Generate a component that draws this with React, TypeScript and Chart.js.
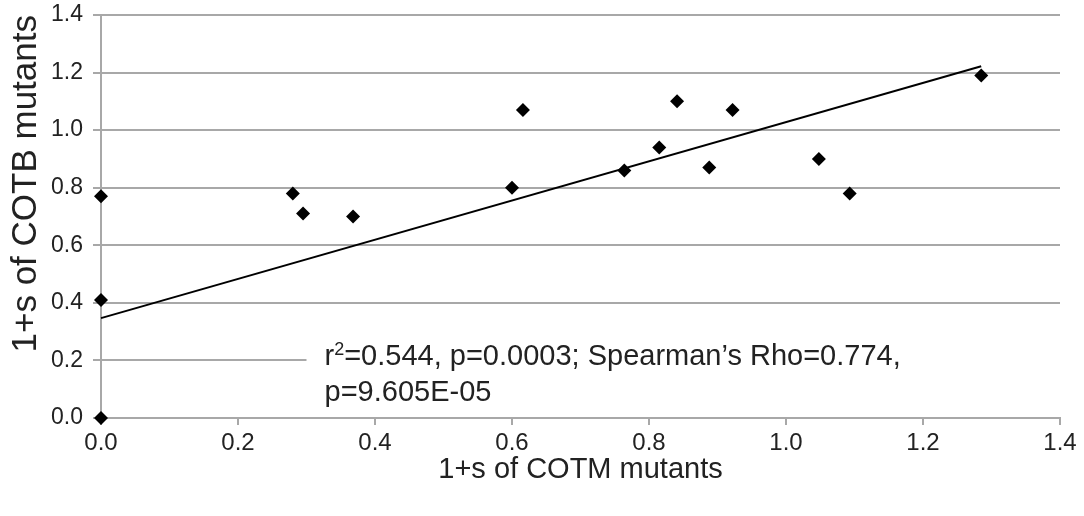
import React, { useEffect, useRef } from "react";
import { Chart, registerables } from "chart.js";

Chart.register(...registerables);

// COTM (x) vs COTB (y) fitness values
const cotmValues = [0, 0, 0, 0.28, 0.295, 0.368, 0.6, 0.616, 0.764, 0.815, 0.841, 0.888, 0.922, 1.048, 1.093, 1.285];
const cotbValues = [0.77, 0.41, 0.0, 0.78, 0.71, 0.7, 0.8, 1.07, 0.86, 0.94, 1.1, 0.87, 1.07, 0.9, 0.78, 1.19];

// linear trend line end points
const trendX = [0, 1.285];
const trendY = [0.347, 1.222];

const xTitle = "1+s of COTM mutants";
const yTitle = "1+s of COTB mutants";
const statsLine1Pre = "r";
const statsLine1Sup = "2";
const statsLine1Post = "=0.544, p=0.0003; Spearman\u2019s Rho=0.774,";
const statsLine2 = "p=9.605E-05";

const FONT = "'Liberation Sans', Arial, Helvetica, sans-serif";
const GRID = "#a8a8a8";
const TEXT = "#222222";

const statsBox = {
  id: "statsBox",
  beforeDatasetsDraw(chart: any) {
    const { ctx, chartArea, scales } = chart;
    const x = scales.x;
    const y = scales.y;
    const left = x.getPixelForValue(0.3);
    const top = y.getPixelForValue(0.34);
    const bottom = y.getPixelForValue(0.02);
    ctx.save();
    ctx.fillStyle = "#ffffff";
    ctx.fillRect(left, top, chartArea.right - left, bottom - top);
    ctx.fillStyle = TEXT;
    ctx.textBaseline = "alphabetic";
    ctx.textAlign = "left";
    const tx = left + 18;
    const b1 = top + 45;
    const b2 = top + 81;
    ctx.font = `29px ${FONT}`;
    ctx.fillText(statsLine1Pre, tx, b1);
    let cx = tx + ctx.measureText(statsLine1Pre).width;
    ctx.font = `18px ${FONT}`;
    ctx.fillText(statsLine1Sup, cx, b1 - 10);
    cx += ctx.measureText(statsLine1Sup).width;
    ctx.font = `29px ${FONT}`;
    ctx.fillText(statsLine1Post, cx, b1);
    ctx.fillText(statsLine2, tx, b2);
    ctx.restore();
  },
};

export default function App() {
  const ref = useRef<HTMLCanvasElement | null>(null);
  useEffect(() => {
    document.body.style.margin = "0";
    const canvas = ref.current;
    if (!canvas) return;
    const points = cotmValues.map((v, i) => ({ x: v, y: cotbValues[i] }));
    const trend = trendX.map((v, i) => ({ x: v, y: trendY[i] }));
    const chart = new Chart(canvas, {
      type: "scatter",
      data: {
        datasets: [
          {
            label: "trend",
            type: "line",
            data: trend,
            borderColor: "#000000",
            borderWidth: 2,
            pointRadius: 0,
            fill: false,
            clip: false,
          } as any,
          {
            label: "mutants",
            data: points,
            pointStyle: "rectRot",
            pointRadius: 7,
            backgroundColor: "#000000",
            borderColor: "#000000",
            borderWidth: 0,
            clip: false,
          } as any,
        ],
      },
      options: {
        animation: false,
        responsive: false,
        devicePixelRatio: 1,
        layout: { padding: { left: 0, right: 24, top: 15, bottom: 0 } },
        plugins: {
          legend: { display: false },
          tooltip: { enabled: false },
          title: { display: false },
        },
        scales: {
          x: {
            type: "linear",
            min: 0,
            max: 1.4,
            ticks: {
              stepSize: 0.2,
              color: TEXT,
              font: { family: FONT, size: 24 },
              padding: 4,
              maxRotation: 0,
              callback: (v: any) => Number(v).toFixed(1),
            },
            grid: {
              drawOnChartArea: false,
              drawTicks: true,
              tickLength: 7,
              color: GRID,
              lineWidth: 2,
            },
            border: { display: true, color: GRID, width: 2 },
            title: {
              display: true,
              text: xTitle,
              color: TEXT,
              font: { family: FONT, size: 29 },
              padding: { top: 0, bottom: 29 },
            },
            afterFit: (s: any) => {
              s.height = 98;
            },
          },
          y: {
            type: "linear",
            min: 0,
            max: 1.4,
            ticks: {
              stepSize: 0.2,
              color: TEXT,
              font: { family: FONT, size: 23 },
              padding: 10,
              callback: (v: any) => Number(v).toFixed(1),
            },
            grid: {
              drawOnChartArea: true,
              drawTicks: true,
              tickLength: 8,
              color: GRID,
              lineWidth: 2,
            },
            border: { display: true, color: GRID, width: 2 },
            title: {
              display: true,
              text: yTitle,
              color: TEXT,
              align: "end",
              font: { family: FONT, size: 35 },
              padding: { top: 5, bottom: 0 },
            },
            afterFit: (s: any) => {
              s.width = 101;
              s.paddingTop = 0;
              s.paddingBottom = 0;
            },
          },
        },
      },
      plugins: [statsBox],
    });
    return () => chart.destroy();
  }, []);
  return (
    <div style={{ width: 1084, height: 516, background: "#fff" }}>
      <canvas ref={ref} width={1084} height={516} style={{ display: "block" }} />
    </div>
  );
}
